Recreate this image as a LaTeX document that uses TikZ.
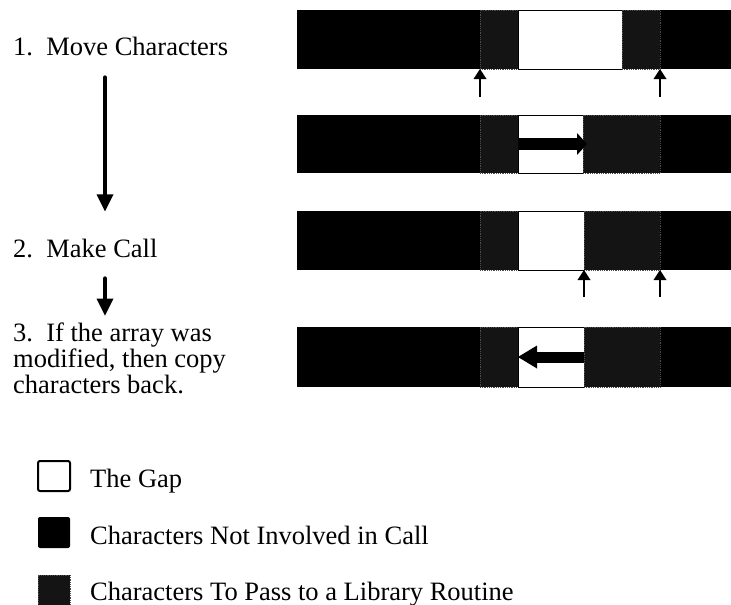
\documentclass[tikz,border=0pt]{standalone}
\usepackage{fontspec}
\setmainfont{Liberation Serif}
\usetikzlibrary{arrows.meta,positioning}

\begin{document}
\begin{tikzpicture}[
x=1pt,y=-1pt,
font=\fontsize{26.5}{25.8}\selectfont,
stp/.style={anchor=base west,inner sep=0pt,align=left},
chars/.style={anchor=north west,inner sep=0pt,outer sep=0pt,fill=black,
minimum width=434pt},
pass/.style={anchor=north west,inner sep=0pt,outer sep=0pt,fill=black!92,
draw=black!70,densely dotted,line width=0.8pt},
gapbox/.style={anchor=north west,inner sep=0pt,outer sep=0pt,fill=white,
draw=black,line width=1pt},
steparr/.style={line width=4.5pt,line cap=round,
-{Triangle[length=17pt,width=17pt,line width=0pt]}},
ptr/.style={line width=1.5pt,-{Triangle[length=10pt,width=13pt,line width=0pt]}},
movearr/.style={line width=12pt,-{Triangle[length=10pt,width=22pt,line width=0pt]}},
backarr/.style={line width=11pt,-{Triangle[length=19pt,width=23pt,line width=0pt]}}
]
\useasboundingbox (0,0) rectangle (731,605);

% steps
\node[stp] (s1) at (13,55) {1.\ \ Move Characters};
\node[stp] (s2) at (13,257) {2.\ \ Make Call};
\node[stp] (s3) at (13,393) {3.\ \ If the array was\\modified, then copy\\characters back.};
\coordinate (ax) at (105,0);
\draw[steparr,shorten <=22pt,shorten >=27pt] (s1.south -| ax) -- (s2.north -| ax);
\draw[steparr,shorten <=21pt,shorten >=7pt] (s2.south -| ax) -- (s3.north -| ax);

% bar 1
\node[chars,minimum height=59pt] (bar1) at (297,10) {};
\node[pass,minimum width=38pt,minimum height=59pt] (b1pl) at (480,10) {};
\node[gapbox,minimum width=104pt,minimum height=59pt] (b1gap) at (518,10) {};
\node[pass,minimum width=38pt,minimum height=59pt] (b1pr) at (622,10) {};
\coordinate (u1) at (480,97);
\coordinate (u2) at (660,97);
\draw[ptr] (u1) -- (b1pl.south west);
\draw[ptr] (u2) -- (b1pr.south east);

% bar 2
\node[chars,minimum height=58pt] (bar2) at (297,115) {};
\node[pass,minimum width=38pt,minimum height=58pt] (b2pl) at (480,115) {};
\node[gapbox,minimum width=65pt,minimum height=58pt] (b2gap) at (518,115) {};
\node[pass,minimum width=77pt,minimum height=58pt] (b2pr) at (583,115) {};
\draw[movearr,shorten >=-4pt] (b2gap.west) -- (b2pr.west);

% bar 3
\node[chars,minimum height=59pt] (bar3) at (297,211) {};
\node[pass,minimum width=38pt,minimum height=59pt] (b3pl) at (480,211) {};
\node[gapbox,minimum width=66pt,minimum height=59pt] (b3gap) at (518,211) {};
\node[pass,minimum width=76pt,minimum height=59pt] (b3pr) at (584,211) {};
\coordinate (u3) at (584,297);
\coordinate (u4) at (660,297);
\draw[ptr] (u3) -- (b3pr.south west);
\draw[ptr] (u4) -- (b3pr.south east);

% bar 4
\node[chars,minimum height=60pt] (bar4) at (297,327) {};
\node[pass,minimum width=38pt,minimum height=60pt] (b4pl) at (480,327) {};
\node[gapbox,minimum width=66pt,minimum height=60pt] (b4gap) at (518,327) {};
\node[pass,minimum width=76pt,minimum height=60pt] (b4pr) at (584,327) {};
\draw[backarr] (b4pr.west) -- (b4gap.west);

% legend
\node[gapbox,minimum width=32pt,minimum height=30pt,rounded corners=2pt,
line width=2pt] (lg1) at (38,461) {};
\node[chars,minimum width=32pt,minimum height=31pt,rounded corners=2pt] (lg2) at (38,517) {};
\node[pass,minimum width=32pt,minimum height=30pt] (lg3) at (38,575) {};
\node[stp] (t1) at (90,487) {The Gap};
\node[stp] (t2) at (90,544) {Characters Not Involved in Call};
\node[stp] (t3) at (90,600) {Characters To Pass to a Library Routine};
\end{tikzpicture}
\end{document}
